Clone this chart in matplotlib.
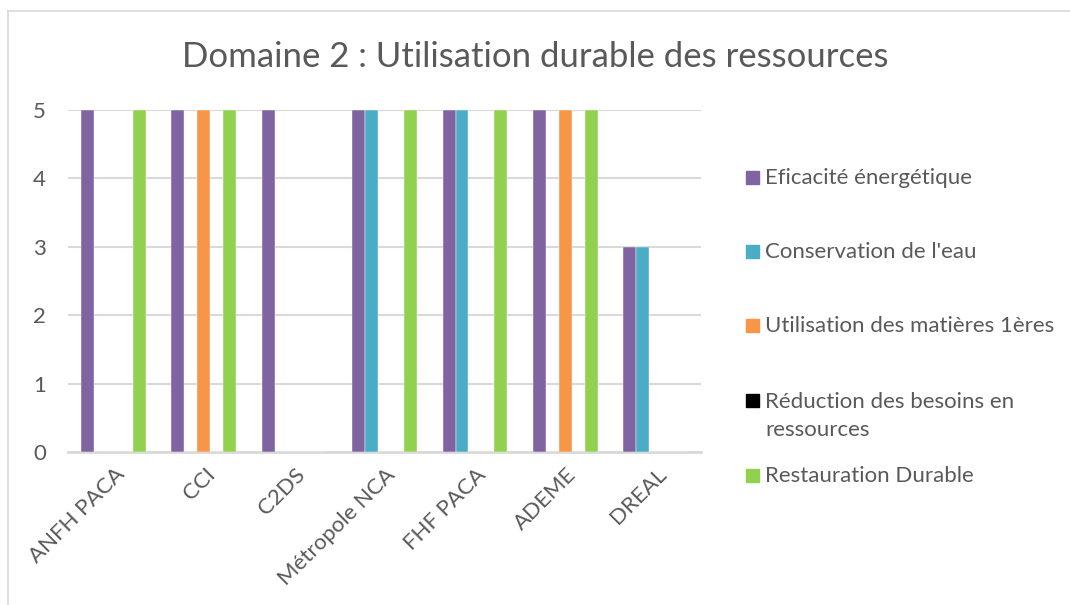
import matplotlib
matplotlib.use("Agg")
import matplotlib.pyplot as plt
import matplotlib.transforms as mtransforms
from matplotlib.patches import Rectangle
from matplotlib.lines import Line2D
import numpy as np

plt.rcParams['font.family'] = ['Lato', 'DejaVu Sans']

categories = ["ANFH PACA", "CCI", "C2DS", "Métropole NCA", "FHF PACA", "ADEME", "DREAL"]
series_names = ["Eficacité énergétique", "Conservation de l'eau",
                "Utilisation des matières 1ères",
                "Réduction des besoins en\nressources", "Restauration Durable"]
eficacite = [5, 5, 5, 5, 5, 5, 3]
eau = [0, 0, 0, 5, 5, 0, 3]
matieres = [0, 5, 0, 0, 0, 5, 0]
reduction = [0, 0, 0, 0, 0, 0, 0]
restauration = [5, 5, 0, 5, 5, 5, 0]
colors = ["#8064A2", "#4BACC6", "#F79646", "#000000", "#92D050"]

W, H = 1070, 605
fig = plt.figure(figsize=(W / 100, H / 100), dpi=100)
ax = fig.add_axes([68 / W, 1 - 452 / H, (701 - 68) / W, (452 - 110) / H])

txt = "#595959"
grid = "#D9D9D9"
x = np.arange(len(categories))
bw = 0.143
data = [eficacite, eau, matieres, reduction, restauration]
for i, (vals, c) in enumerate(zip(data, colors)):
    ax.bar(x + (i - 2) * bw, vals, bw, color=c, edgecolor="white", linewidth=0.3, zorder=3)

ax.set_xlim(-0.5, len(categories) - 0.5)
ax.set_ylim(0, 5)
ax.set_yticks(range(6))
ax.yaxis.grid(True, color=grid, linewidth=1.5, zorder=0)
for s in ["top", "right", "left"]:
    ax.spines[s].set_visible(False)
ax.spines["bottom"].set_color(grid)
ax.spines["bottom"].set_linewidth(2)
ax.tick_params(axis="both", length=0, colors=txt, labelsize=16)
ax.tick_params(axis="y", pad=16)
ax.set_xticks(x)
ax.set_xticklabels(categories, rotation=45, ha="right", va="center", rotation_mode="anchor")
ax.tick_params(axis="x", pad=14)
offset = mtransforms.ScaledTranslation(8 / 100, 0, fig.dpi_scale_trans)
for lbl in ax.get_xticklabels():
    lbl.set_transform(lbl.get_transform() + offset)

fig.text(0.5, 1 - 57 / H, "Domaine 2 : Utilisation durable des ressources",
         ha="center", va="center", fontsize=25, color=txt)

# legend
ys = [178, 252, 326, 401, 476]
for name, c, yy in zip(series_names, colors, ys):
    fig.patches.append(Rectangle((746 / W, 1 - (yy + 6) / H), 13 / W, 13 / H,
                                 transform=fig.transFigure, color=c))
    if "\n" in name:
        fig.text(765 / W, 1 - (yy - 9) / H, name, ha="left", va="top",
                 fontsize=16, color=txt, linespacing=1.5)
    else:
        fig.text(765 / W, 1 - yy / H, name, ha="left", va="center",
                 fontsize=16, color=txt)

# chart border
fig.lines.append(Line2D([8 / W, 8 / W], [0, 1 - 11 / H], transform=fig.transFigure, color=grid, lw=1.2))
fig.lines.append(Line2D([8 / W, 1], [1 - 11 / H, 1 - 11 / H], transform=fig.transFigure, color=grid, lw=1.2))

fig.savefig("out.png", dpi=100)
